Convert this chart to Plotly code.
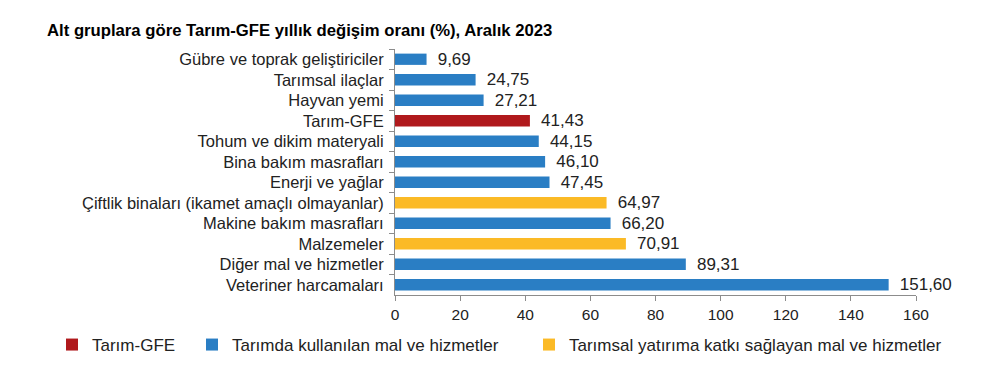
import plotly.graph_objects as go

categories = [
    "Gübre ve toprak geliştiriciler",
    "Tarımsal ilaçlar",
    "Hayvan yemi",
    "Tarım-GFE",
    "Tohum ve dikim materyali",
    "Bina bakım masrafları",
    "Enerji ve yağlar",
    "Çiftlik binaları (ikamet amaçlı olmayanlar)",
    "Makine bakım masrafları",
    "Malzemeler",
    "Diğer mal ve hizmetler",
    "Veteriner harcamaları",
]
values = [9.69, 24.75, 27.21, 41.43, 44.15, 46.10, 47.45, 64.97, 66.20, 70.91, 89.31, 151.60]
groups = ["b", "b", "b", "r", "b", "b", "b", "y", "b", "y", "b", "b"]

series = [
    ("r", "Tarım-GFE", "#B0191C", "legend", 44),
    ("b", "Tarımda kullanılan mal ve hizmetler", "#2A7EC4", "legend2", 184),
    ("y", "Tarımsal yatırıma katkı sağlayan mal ve hizmetler", "#FBBA26", "legend3", 521),
]

x_ticks = [0, 20, 40, 60, 80, 100, 120, 140, 160]

FONT = "Liberation Sans, Arial, sans-serif"
TXT = "#222222"
W, H = 985, 352  # page body has an 8px margin in the browser

fig = go.Figure()
legends = {}
for key, name, color, leg, lx in series:
    ys = [c for c, g in zip(categories, groups) if g == key]
    xs = [v for v, g in zip(values, groups) if g == key]
    fig.add_trace(go.Bar(
        y=ys, x=xs, orientation="h", name=name, legend=leg,
        marker=dict(color=color, line=dict(width=0)),
        width=0.55,
        text=xs, texttemplate="\u00a0\u2009%{x:.2f}", textposition="outside",
        textfont=dict(family=FONT, size=17, color=TXT),
        constraintext="none",
        cliponaxis=False,
    ))
    legends[leg] = dict(
        orientation="h", xref="container", yref="container",
        x=lx / W, y=1 - 337 / H, xanchor="left", yanchor="middle",
        font=dict(family=FONT, size=17, color=TXT),
        itemwidth=30, bgcolor="rgba(0,0,0,0)", borderwidth=0,
    )

fig.update_layout(
    width=W, height=H,
    margin=dict(l=387, r=77, t=41, b=65, autoexpand=False),
    paper_bgcolor="white", plot_bgcolor="white",
    barmode="overlay",
    separators=",.",
    font=dict(family=FONT, size=16, color=TXT),
    title=dict(
        text="<b>Alt gruplara göre Tarım-GFE yıllık değişim oranı (%), Aralık 2023</b>",
        xref="container", yref="container", x=39 / W, y=1 - 22 / H,
        xanchor="left", yanchor="middle",
        font=dict(family=FONT, size=16.7, color="black"),
    ),
    showlegend=True,
    **legends,
)

fig.update_xaxes(
    range=[0, 160], tickvals=x_ticks, ticktext=[str(t) for t in x_ticks],
    showgrid=False, zeroline=False, automargin=False,
    showline=True, linecolor="#8C8C8C", linewidth=1,
    ticks="outside", ticklen=5, tickcolor="#8C8C8C",
    tickfont=dict(family=FONT, size=15.5, color=TXT),
)
fig.update_yaxes(
    type="category", categoryorder="array", categoryarray=categories,
    autorange="reversed", automargin=False,
    showgrid=False, zeroline=False,
    showline=True, linecolor="#8C8C8C", linewidth=1,
    ticks="outside", ticklen=5, tickcolor="#8C8C8C", tickson="boundaries",
    ticklabelstandoff=7,
    tickfont=dict(family=FONT, size=16.5, color=TXT),
)

fig.write_html("out.html")
